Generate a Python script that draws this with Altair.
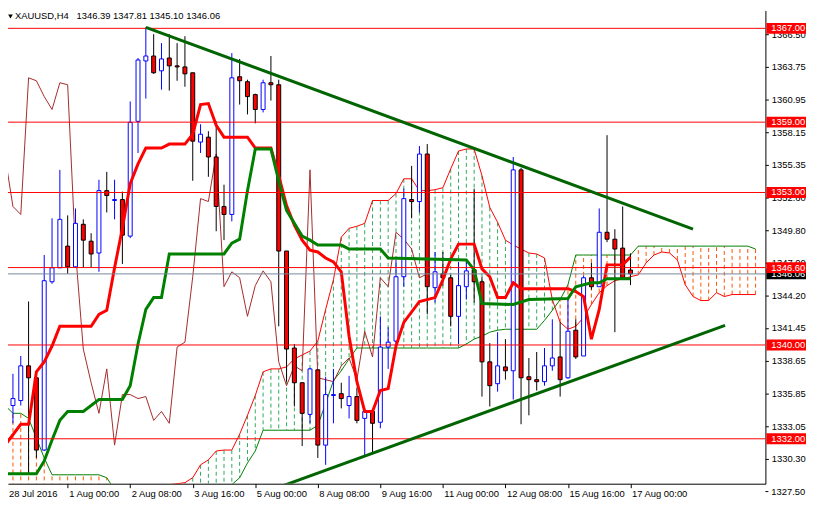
import altair as alt
import pandas as pd

# ---------------- data (H4 bars, index 0 = 28 Jul 16:00) ----------------
opens = [1342.95, 1334.84, 1335.26, 1338.22, 1337.20, 1331.04, 1345.39, 1346.58, 1348.43, 1346.66,
         1350.29, 1348.85, 1347.84, 1353.16, 1352.32, 1352.40, 1349.28, 1359.07, 1364.22, 1364.64,
         1363.38, 1364.47, 1363.80, 1363.71, 1363.21, 1357.30, 1357.72, 1356.03, 1351.81, 1351.13,
         1362.87, 1362.45, 1361.35, 1360.08, 1362.36, 1362.19, 1348.01, 1339.74, 1336.78, 1334.08,
         1337.88, 1331.46, 1335.69, 1335.85, 1334.84, 1335.60, 1333.74, 1334.33, 1333.41, 1339.82,
         1340.33, 1345.82, 1352.40, 1352.23, 1356.28, 1344.89, 1346.07, 1345.73, 1342.44, 1344.97,
         1346.41, 1345.39, 1338.56, 1336.70, 1338.13, 1337.80, 1354.93, 1337.29, 1337.04, 1336.87,
         1338.22, 1338.98, 1337.20, 1341.26, 1339.06, 1345.73, 1344.97, 1349.61, 1349.02, 1348.26,
         1346.39]
highs = [1343.62, 1337.54, 1339.06, 1343.71, 1337.20, 1347.67, 1350.80, 1354.93, 1351.05, 1351.64,
         1350.71, 1349.53, 1354.09, 1354.76, 1354.09, 1353.08, 1360.76, 1364.47, 1367.09, 1366.50,
         1365.74, 1366.50, 1365.74, 1366.33, 1363.21, 1358.82, 1358.23, 1359.07, 1353.67, 1364.89,
         1364.39, 1362.62, 1361.43, 1362.62, 1364.64, 1362.62, 1348.01, 1340.08, 1336.78, 1338.05,
         1337.88, 1337.29, 1337.96, 1336.78, 1337.37, 1336.36, 1334.59, 1334.33, 1342.44, 1341.51,
         1347.25, 1353.33, 1355.27, 1356.96, 1357.13, 1347.93, 1347.93, 1345.98, 1347.08, 1347.08,
         1353.33, 1345.82, 1340.16, 1341.09, 1340.50, 1356.03, 1355.10, 1338.89, 1339.40, 1339.74,
         1342.19, 1341.93, 1343.87, 1342.19, 1345.90, 1347.00, 1351.64, 1357.89, 1349.87, 1351.81,
         1347.81]
lows = [1334.42, 1333.32, 1334.84, 1328.93, 1330.37, 1330.96, 1345.22, 1346.58, 1346.07, 1346.58,
        1346.58, 1346.58, 1346.24, 1351.30, 1350.71, 1346.91, 1349.11, 1356.37, 1361.01, 1363.12,
        1361.77, 1361.69, 1362.53, 1362.02, 1354.00, 1356.37, 1354.34, 1349.70, 1348.94, 1350.54,
        1360.50, 1359.66, 1358.90, 1359.83, 1360.84, 1341.59, 1336.87, 1334.76, 1331.38, 1333.32,
        1330.37, 1329.78, 1333.32, 1334.59, 1333.74, 1333.32, 1330.62, 1330.79, 1332.90, 1337.96,
        1339.65, 1344.97, 1350.80, 1351.30, 1342.61, 1343.62, 1345.06, 1341.59, 1340.08, 1343.87,
        1343.62, 1335.60, 1334.76, 1336.02, 1337.04, 1335.35, 1333.24, 1334.00, 1336.11, 1336.53,
        1337.80, 1335.60, 1337.12, 1338.81, 1339.06, 1344.72, 1344.97, 1348.77, 1341.09, 1345.56,
        1345.10]
closes = [1335.01, 1335.43, 1338.22, 1337.20, 1331.04, 1345.48, 1346.58, 1350.71, 1346.66, 1350.37,
          1348.94, 1347.76, 1353.16, 1352.74, 1352.40, 1349.36, 1358.99, 1364.30, 1364.64, 1363.21,
          1364.39, 1363.80, 1363.71, 1363.12, 1357.38, 1357.97, 1356.03, 1351.81, 1351.13, 1362.78,
          1362.53, 1361.18, 1360.08, 1362.36, 1362.19, 1348.01, 1339.65, 1336.78, 1334.17, 1337.96,
          1331.46, 1335.77, 1335.77, 1335.43, 1335.60, 1333.57, 1334.33, 1333.32, 1339.82, 1340.24,
          1345.82, 1352.48, 1352.23, 1356.28, 1344.97, 1346.24, 1345.73, 1342.44, 1345.06, 1346.32,
          1345.39, 1338.56, 1336.53, 1338.22, 1337.80, 1354.93, 1337.20, 1337.04, 1336.87, 1338.22,
          1338.89, 1337.04, 1341.17, 1338.98, 1345.73, 1344.97, 1349.61, 1349.02, 1348.18, 1345.73,
          1346.06]

# Ichimoku: Tenkan-sen (red) and Kijun-sen (green) vertices
tenkan_i = [0, 2, 3, 4, 5, 6, 7, 11, 12, 13, 14, 15, 16, 17, 18, 20, 21, 23, 24, 25, 26, 27, 28, 31,
            32, 34, 35, 36, 37, 38, 39, 40, 41, 42, 43, 44, 45, 46, 47, 48, 49, 50, 51, 53, 55, 56,
            57, 58, 60, 61, 62, 63, 64, 65, 66, 72, 73, 74, 75, 76, 77, 79, 80]
tenkan_p = [1331.46, 1333.24, 1333.24, 1337.71, 1338.56, 1339.91, 1341.59, 1341.59, 1342.61, 1342.95,
            1346.58, 1349.95, 1353.75, 1355.44, 1356.79, 1356.79, 1357.13, 1357.13, 1357.97, 1360.50,
            1360.59, 1358.73, 1357.72, 1357.72, 1356.79, 1356.79, 1354.43, 1351.89, 1350.21, 1348.94,
            1348.09, 1347.93, 1347.42, 1347.08, 1346.24, 1340.75, 1336.87, 1334.33, 1334.33, 1336.11,
            1336.28, 1339.91, 1341.93, 1343.71, 1344.04, 1345.56, 1347.34, 1348.60, 1348.60, 1346.49,
            1345.82, 1344.04, 1344.04, 1345.31, 1344.80, 1344.80, 1344.55, 1344.13, 1340.50, 1343.03,
            1346.83, 1346.83, 1347.50]
kijun_i = [0, 4, 5, 6, 7, 8, 10, 12, 15, 16, 17, 18, 19, 20, 21, 28, 29, 30, 31, 32, 34, 35, 36, 38,
           39, 40, 43, 44, 48, 49, 59, 60, 61, 65, 67, 72, 73, 75, 76, 77, 80]
kijun_p = [1329.02, 1329.02, 1330.11, 1331.89, 1333.57, 1334.33, 1334.33, 1335.35, 1335.35, 1336.53,
           1340.08, 1343.03, 1344.04, 1344.04, 1347.76, 1347.76, 1348.69, 1349.02, 1353.16, 1356.71,
           1356.71, 1354.00, 1351.47, 1349.28, 1348.94, 1348.52, 1348.52, 1348.18, 1348.18, 1347.42,
           1347.25, 1346.41, 1343.54, 1343.45, 1343.87, 1343.96, 1344.97, 1345.31, 1345.31, 1345.65,
           1345.65]

# Senkou span A (red thin) and B (green thin), one value per bar 0..96 (1325.50 = below the chart)
span_a = [1325.50] * 21 + [
    1328.09, 1328.17, 1328.26, 1328.68, 1329.78, 1330.20, 1330.96, 1331.04, 1331.04, 1332.39,
    1334.00, 1335.69, 1337.71, 1337.96, 1337.96, 1338.13, 1338.81, 1339.15, 1339.48, 1340.33,
    1343.03, 1345.56, 1349.19, 1349.95, 1350.12, 1350.37, 1352.32, 1352.32, 1352.32, 1352.91,
    1354.17, 1354.17, 1353.16, 1353.16, 1353.24, 1353.41, 1355.02, 1356.54, 1356.71, 1356.71,
    1354.43, 1351.73, 1350.46, 1348.94, 1348.52, 1348.18, 1347.84, 1347.76, 1347.42, 1343.87,
    1341.93, 1341.34, 1341.59, 1342.35, 1343.45, 1344.46, 1345.06, 1345.48, 1345.65, 1345.82,
    1345.98, 1347.00, 1347.67, 1347.93, 1347.84, 1347.25, 1345.14, 1344.13, 1343.79, 1343.79,
    1344.46, 1344.13, 1344.30, 1344.30, 1344.30, 1344.30]
span_b = ([1334.84, 1334.17, 1334.17, 1333.74, 1332.06, 1330.37, 1328.93] + [1328.93] * 6 +
          [1328.68, 1327.67] + [1325.50] * 8 + [1327.24, 1327.67, 1328.00] + [1328.09] * 4 +
          [1328.68, 1329.94, 1330.96] + [1332.73] * 7 +
          [1333.15, 1335.01, 1336.95, 1337.80, 1338.81] + [1339.74] * 14 +
          [1340.08, 1340.50, 1340.75, 1341.09, 1341.26] + [1341.34] * 5 +
          [1342.10, 1342.95, 1343.87, 1345.14] + [1347.67] * 8 + [1348.43] * 15 + [1348.18])

# trend lines
down_i = [18, 88]
down_p = [1367.09, 1349.87]
up_i = [32.25, 92.1]
up_p = [1327.20, 1341.68]

levels = [1367.00, 1359.00, 1353.00, 1346.60, 1340.00, 1332.00]
bid = 1346.06
price_ticks = [1366.50, 1363.75, 1360.95, 1358.15, 1355.35, 1352.60, 1349.80, 1347.00,
               1344.20, 1341.45, 1338.65, 1335.85, 1333.05, 1330.30]
extra_tick = 1327.50
time_ticks = [8, 16, 24, 32, 40, 48, 56, 64, 72, 80]
time_labels = ["1 Aug 00:00", "2 Aug 08:00", "3 Aug 16:00", "5 Aug 00:00", "8 Aug 08:00",
               "9 Aug 16:00", "11 Aug 00:00", "12 Aug 08:00", "15 Aug 16:00", "17 Aug 00:00"]
first_label = "28 Jul 2016"
title_text = "XAUUSD,H4\u00a0\u00a0 1346.39 1347.81 1345.10 1346.06"

# ---------------- tables ----------------
n = len(closes)
cdf = pd.DataFrame({"i": list(range(n)), "o": opens, "h": highs, "l": lows, "c": closes})
up = cdf["c"] >= cdf["o"]
cdf["wick"] = ["#0000ff" if u else "#000000" for u in up]
cdf["fill"] = ["#ffffff" if u else "#ff0000" for u in up]
cdf["stroke"] = ["#0000ff" if u else "#000000" for u in up]

chik = pd.DataFrame({"i": list(range(n - 26)), "p": closes[26:]})
ten = pd.DataFrame({"i": tenkan_i, "p": tenkan_p})
kij = pd.DataFrame({"i": kijun_i, "p": kijun_p})
cloud = pd.DataFrame({"i": list(range(len(span_a))), "a": span_a, "b": span_b})
cloud["col"] = ["#2eaa5a" if a > b else "#ff5500" for a, b in zip(span_a, span_b)]
dtr = pd.DataFrame({"i": down_i, "p": down_p})
utr = pd.DataFrame({"i": up_i, "p": up_p})
lv = pd.DataFrame({"p": levels, "lbl": [f"{v:.2f}" for v in levels]})
bd = pd.DataFrame({"p": [bid], "lbl": [f"{bid:.2f}"]})

FONT = "Liberation Sans"
FS = 9.5
W, H = 765, 478
xs = alt.Scale(domain=[1, 96.625], nice=False, zero=False)
ys = alt.Scale(domain=[1328.17, 1368.525], nice=False, zero=False)

label_expr = "[" + ",".join(f"'{s}'" for s in time_labels) + "][round(datum.value/8)-1]"
xaxis = alt.Axis(values=time_ticks, labelExpr=label_expr, orient="bottom", domainColor="black",
                 tickColor="black", tickSize=4, labelAlign="left", labelBaseline="top",
                 labelPadding=1, labelOffset=1, labelFont=FONT, labelFontSize=FS,
                 labelColor="black", labelOverlap=False, labelFlush=False, grid=False, title=None)
yaxis = alt.Axis(values=price_ticks, format=".2f", orient="right", domainColor="black",
                 tickColor="black", tickSize=3, labelPadding=3, labelFont=FONT, labelFontSize=FS,
                 labelColor="black", labelOverlap=False, labelFlush=False, grid=False, title=None)


def X(f):
    return alt.X(f"{f}:Q", scale=xs, axis=xaxis, title=None)


def Y(f):
    return alt.Y(f"{f}:Q", scale=ys, axis=yaxis, title=None)


hatch = alt.Chart(cloud).mark_rule(strokeWidth=1, strokeDash=[4, 3], clip=True).encode(
    x=X("i"), y=Y("a"), y2="b", color=alt.Color("col:N", scale=None))
span_a_line = alt.Chart(cloud).mark_line(color="#ff0000", strokeWidth=1, clip=True).encode(
    x=X("i"), y=Y("a"))
span_b_line = alt.Chart(cloud).mark_line(color="#008000", strokeWidth=1, clip=True).encode(
    x=X("i"), y=Y("b"))
chikou = alt.Chart(chik).mark_line(color="#a52a2a", strokeWidth=1, clip=True).encode(
    x=X("i"), y=Y("p"))
wicks = alt.Chart(cdf).mark_rule(strokeWidth=1, clip=True).encode(
    x=X("i"), y=Y("l"), y2="h", color=alt.Color("wick:N", scale=None))
bodies = alt.Chart(cdf).mark_bar(width=4, strokeWidth=1, clip=True).encode(
    x=X("i"), y=Y("o"), y2="c", fill=alt.Fill("fill:N", scale=None),
    stroke=alt.Stroke("stroke:N", scale=None))
tenkan = alt.Chart(ten).mark_line(color="#ff0000", strokeWidth=3, clip=True).encode(
    x=X("i"), y=Y("p"))
kijun = alt.Chart(kij).mark_line(color="#008000", strokeWidth=3, clip=True).encode(
    x=X("i"), y=Y("p"))
hlines = alt.Chart(lv).mark_rule(color="#ff0000", strokeWidth=1, clip=True).encode(y=Y("p"))
bidline = alt.Chart(bd).mark_rule(color="#778899", strokeWidth=1, clip=True).encode(y=Y("p"))
tr_down = alt.Chart(dtr).mark_line(color="#006400", strokeWidth=3, clip=True).encode(
    x=X("i"), y=Y("p"))
tr_up = alt.Chart(utr).mark_line(color="#006400", strokeWidth=3, clip=True).encode(
    x=X("i"), y=Y("p"))

bid_box = alt.Chart(bd).mark_rect(color="#000000", yOffset=-5.5, y2Offset=5.5).encode(
    x=alt.value(766), x2=alt.value(806), y=Y("p"), y2="p")
bid_txt = alt.Chart(bd).mark_text(align="left", baseline="middle", font=FONT, fontSize=FS,
                                  color="white").encode(x=alt.value(771), y=Y("p"), text="lbl:N")
lv_box = alt.Chart(lv).mark_rect(color="#ff0000", yOffset=-5.5, y2Offset=5.5).encode(
    x=alt.value(766), x2=alt.value(806), y=Y("p"), y2="p")
lv_txt = alt.Chart(lv).mark_text(align="left", baseline="middle", font=FONT, fontSize=FS,
                                 color="white").encode(x=alt.value(771), y=Y("p"), text="lbl:N")

ex = pd.DataFrame({"p": [extra_tick], "lbl": [f"{extra_tick:.2f}"]})
ex_tick = alt.Chart(ex).mark_rule(color="black").encode(
    x=alt.value(765), x2=alt.value(768), y=Y("p"))
ex_txt = alt.Chart(ex).mark_text(align="left", baseline="middle", font=FONT, fontSize=FS,
                                 color="black").encode(x=alt.value(771), y=Y("p"), text="lbl:N")

first = alt.Chart(pd.DataFrame({"t": [first_label]})).mark_text(
    align="left", baseline="top", font=FONT, fontSize=FS, color="black").encode(
    x=alt.value(1), y=alt.value(H + 5), text="t:N")
title = alt.Chart(pd.DataFrame({"t": [title_text]})).mark_text(
    align="left", baseline="middle", font=FONT, fontSize=FS, color="black").encode(
    x=alt.value(7), y=alt.value(6), text="t:N")
tri = alt.Chart(pd.DataFrame({"t": [0]})).mark_point(
    shape="triangle-down", filled=True, color="black", size=22, opacity=1).encode(
    x=alt.value(2.5), y=alt.value(6))

chart = alt.layer(
    hatch, span_a_line, span_b_line, chikou, wicks, bodies, tenkan, kijun,
    hlines, bidline, tr_down, tr_up,
    bid_box, bid_txt, lv_box, lv_txt, ex_tick, ex_txt, first, title, tri
).properties(
    width=W, height=H,
    autosize=alt.AutoSizeParams(type="none"),
    padding={"left": 0, "top": 0, "right": 41, "bottom": 16},
    background="white",
).configure_view(stroke=None)

chart.save("out.html", embed_options={"renderer": "svg", "actions": False})
